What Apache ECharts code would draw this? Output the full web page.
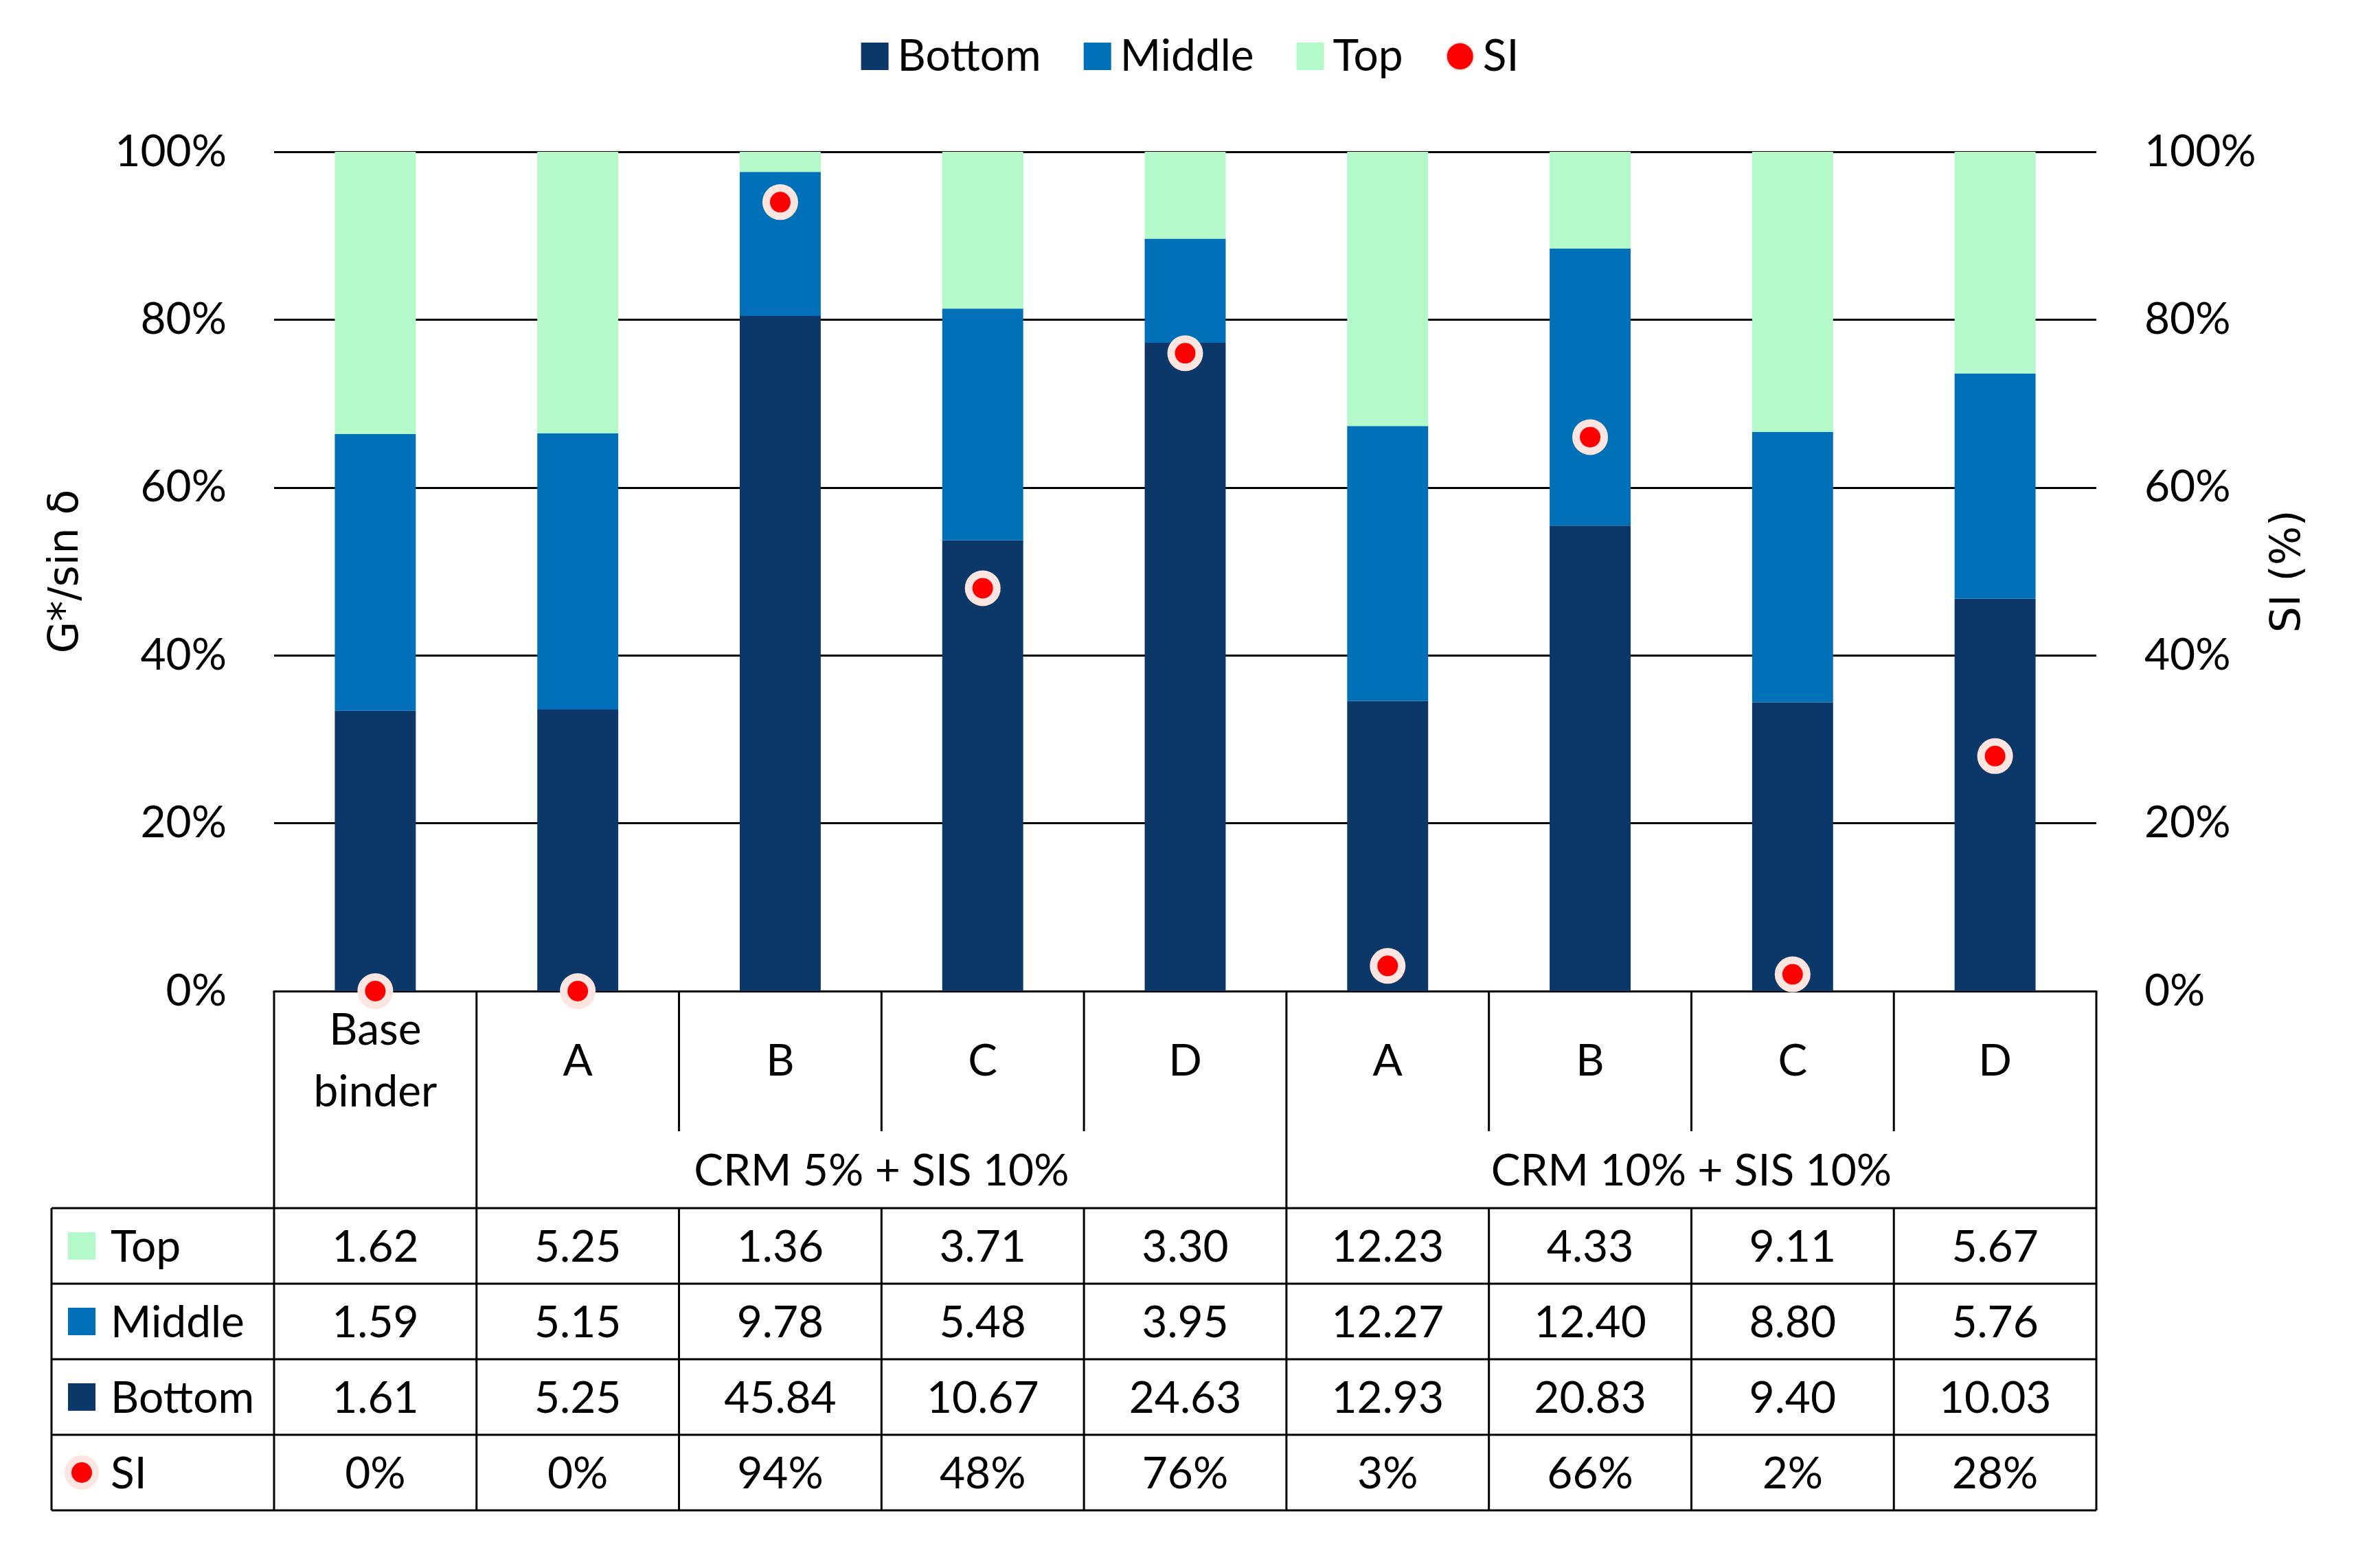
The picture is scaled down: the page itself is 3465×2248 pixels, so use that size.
<!DOCTYPE html>
<html><head><meta charset="utf-8">
<script src="https://cdn.jsdelivr.net/npm/echarts@6/dist/echarts.min.js"></script>
<style>html,body{margin:0;padding:0;background:#fff}#c{width:3465px;height:2248px}</style>
</head><body><div id="c"></div>
<script>
// ---- data ----
const categories = ['Base\nbinder', 'A', 'B', 'C', 'D', 'A', 'B', 'C', 'D'];
const topVals    = [1.62, 5.25, 1.36, 3.71, 3.30, 12.23, 4.33, 9.11, 5.67];
const middleVals = [1.59, 5.15, 9.78, 5.48, 3.95, 12.27, 12.40, 8.80, 5.76];
const bottomVals = [1.61, 5.25, 45.84, 10.67, 24.63, 12.93, 20.83, 9.40, 10.03];
const siVals     = [0, 0, 94, 48, 76, 3, 66, 2, 28];
const groupLabels = ['CRM 5% + SIS 10%', 'CRM 10% + SIS 10%'];
const groupFirst  = [1, 5];
const groupLast   = [4, 8];
const rowNames = ['Top', 'Middle', 'Bottom', 'SI'];

// ---- style ----
const FONT = 'Lato';
const FS = 64;
const C_BOTTOM = '#0B3868', C_MIDDLE = '#0070B8', C_TOP = '#B3F9C9', C_SI = '#FF0000', C_RING = '#FDE6E1';
const LW = 3;

const totals = bottomVals.map((v, i) => v + middleVals[i] + topVals[i]);
const pct = arr => arr.map((v, i) => v / totals[i] * 100);

const chart = echarts.init(document.getElementById('c'), null, {renderer: 'canvas'});
const txt = {fontFamily: FONT, fontSize: FS, color: '#000'};
const nameTxt = {fontFamily: 'DejaVu Sans', fontSize: 60, color: '#000'};

chart.setOption({
  animation: false,
  backgroundColor: '#fff',
  textStyle: {fontFamily: FONT},
  legend: {
    top: 45, left: 'center',
    itemWidth: 40, itemHeight: 40, itemGap: 62,
    textStyle: Object.assign({}, txt, {padding: [0, 0, 0, 8]}),
    data: [{name: 'Bottom', icon: 'rect'}, {name: 'Middle', icon: 'rect'}, {name: 'Top', icon: 'rect'}, {name: 'SI', icon: 'circle'}]
  },
  grid: {left: 399, right: 413, top: 221, bottom: 805, containLabel: false},
  xAxis: {
    type: 'category', data: categories,
    axisLine: {show: true, lineStyle: {color: '#000', width: LW}},
    axisTick: {show: false},
    axisLabel: Object.assign({}, txt, {interval: 0, margin: 102, verticalAlign: 'middle', lineHeight: 90})
  },
  yAxis: [{
    type: 'value', min: 0, max: 100, interval: 20,
    axisLine: {show: false}, axisTick: {show: false},
    splitLine: {show: true, lineStyle: {color: '#000', width: LW}},
    axisLabel: Object.assign({}, txt, {formatter: '{value}%', margin: 69}),
    name: 'G*/sin δ', nameLocation: 'middle', nameRotate: 90, nameGap: 272,
    nameTextStyle: Object.assign({}, nameTxt)
  }, {
    type: 'value', min: 0, max: 100, interval: 20, position: 'right',
    axisLine: {show: false}, axisTick: {show: false}, splitLine: {show: false},
    axisLabel: Object.assign({}, txt, {formatter: '{value}%', margin: 70}),
    name: 'SI (%)', nameLocation: 'middle', nameRotate: 90, nameGap: 250,
    nameTextStyle: Object.assign({}, nameTxt)
  }],
  series: [
    {name: 'Bottom', type: 'bar', stack: 'g', barWidth: '40%', data: pct(bottomVals), itemStyle: {color: C_BOTTOM}},
    {name: 'Middle', type: 'bar', stack: 'g', barWidth: '40%', data: pct(middleVals), itemStyle: {color: C_MIDDLE}},
    {name: 'Top', type: 'bar', stack: 'g', barWidth: '40%', data: pct(topVals), itemStyle: {color: C_TOP}},
    {name: 'SI', type: 'scatter', yAxisIndex: 1, clip: false, z: 10, symbol: 'circle', symbolSize: 41,
     data: siVals.map((v, i) => [i, v]),
     itemStyle: {color: C_SI, borderColor: C_RING, borderWidth: 11, opacity: 1}}
  ]
});

// ---- data table drawn from axis scale ----
function buildTable() {
  const xc = i => chart.convertToPixel({xAxisIndex: 0}, i);
  const bw = xc(1) - xc(0);
  const bx = k => xc(0) - bw / 2 + k * bw;     // boundary k (0..n)
  const n = categories.length;
  const y0 = chart.convertToPixel({yAxisIndex: 0}, 0);
  const yCatEnd = y0 + 204;
  const yGrpEnd = y0 + 316;
  const rowH = 110;
  const xHead = 75;
  const els = [];
  const line = (x1, y1, x2, y2) => els.push({type: 'line', silent: true, z: 100,
    shape: {x1, y1, x2, y2}, style: {stroke: '#000', lineWidth: LW}});
  const text = (x, y, t, align) => els.push({type: 'text', silent: true, z: 100, x, y,
    style: {text: t, fill: '#000', fontFamily: FONT, fontSize: FS, align: align || 'center', verticalAlign: 'middle',
            textAlign: align || 'center', textVerticalAlign: 'middle'}});
  const yEnd = yGrpEnd + rowH * rowNames.length;
  // verticals
  const fullBounds = new Set([0, 1, n]);
  groupFirst.forEach(g => fullBounds.add(g));
  groupLast.forEach(g => fullBounds.add(g + 1));
  for (let k = 0; k <= n; k++) {
    if (fullBounds.has(k)) line(bx(k), y0, bx(k), yEnd);
    else { line(bx(k), y0, bx(k), yCatEnd); line(bx(k), yGrpEnd, bx(k), yEnd); }
  }
  line(xHead, yGrpEnd, xHead, yEnd);
  // horizontals
  for (let r = 0; r <= rowNames.length; r++) line(xHead, yGrpEnd + r * rowH, bx(n), yGrpEnd + r * rowH);
  // group labels
  groupLabels.forEach((g, j) => text((xc(groupFirst[j]) + xc(groupLast[j])) / 2, (yCatEnd + yGrpEnd) / 2 + 2, g));
  // rows
  const rows = [topVals.map(v => v.toFixed(2)), middleVals.map(v => v.toFixed(2)),
                bottomVals.map(v => v.toFixed(2)), siVals.map(v => v + '%')];
  const keyColors = [C_TOP, C_MIDDLE, C_BOTTOM];
  rows.forEach((row, r) => {
    const yc = yGrpEnd + rowH * (r + 0.5);
    row.forEach((t, i) => text(xc(i), yc + 2, t));
    if (r < 3) els.push({type: 'rect', silent: true, z: 100, shape: {x: 99, y: yc - 20, width: 40, height: 40}, style: {fill: keyColors[r]}});
    else els.push({type: 'circle', silent: true, z: 100, shape: {cx: 119, cy: yc, r: 20}, style: {fill: C_SI, stroke: C_RING, lineWidth: 10}});
    text(161, yc + 2, rowNames[r], 'left');
  });
  chart.setOption({graphic: {elements: els}});
}
buildTable();
</script></body></html>
